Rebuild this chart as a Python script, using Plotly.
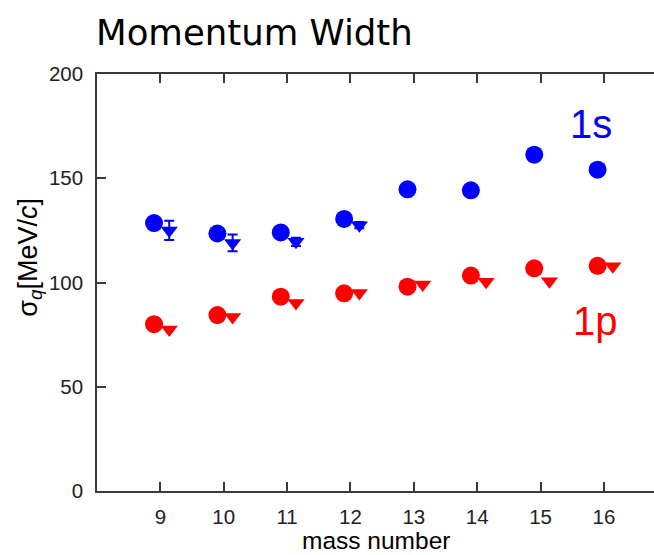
import plotly.graph_objects as go

# Mass numbers of the measured nuclei
mass = [9, 10, 11, 12, 13, 14, 15, 16]

# 1s-shell momentum width (circles) and second analysis (triangles, A = 9-12 only)
s_circle = [128.5, 123.5, 124.0, 130.5, 144.7, 144.2, 161.3, 154.1]
s_tri_mass = [9, 10, 11, 12]
s_tri = [125.0, 119.0, 119.5, 127.5]
s_tri_err = [4.6, 4.0, 2.0, 1.5]

# 1p-shell momentum width
p_circle = [80.0, 84.4, 93.2, 94.8, 98.0, 103.3, 106.8, 108.0]
p_tri = [77.4, 83.5, 90.2, 95.0, 99.0, 100.3, 100.6, 107.8]

x_ticks = [9, 10, 11, 12, 13, 14, 15, 16]
y_ticks = [0, 50, 100, 150, 200]

BLUE = "#0000ff"
RED = "#ff0000"
AXIS = "#3a3a3a"
SANS = "Liberation Sans, Arial, sans-serif"
TICKFONT = dict(family=SANS, size=20.5, color="#222222")

dx_c, dx_t = -0.1, 0.14  # small horizontal shifts so the two markers don't overlap

fig = go.Figure()

fig.add_trace(go.Scatter(
    x=[m + dx_t for m in mass], y=p_tri, mode="markers",
    marker=dict(symbol="triangle-down", size=15, color=RED, line=dict(width=0)),
    showlegend=False))
fig.add_trace(go.Scatter(
    x=[m + dx_c for m in mass], y=p_circle, mode="markers",
    marker=dict(symbol="circle", size=18, color=RED, line=dict(width=0)),
    showlegend=False))
fig.add_trace(go.Scatter(
    x=[m + dx_t for m in s_tri_mass], y=s_tri, mode="markers",
    marker=dict(symbol="triangle-down", size=15, color=BLUE, line=dict(width=0)),
    error_y=dict(type="data", array=s_tri_err, color=BLUE, thickness=2, width=5),
    showlegend=False))
fig.add_trace(go.Scatter(
    x=[m + dx_c for m in mass], y=s_circle, mode="markers",
    marker=dict(symbol="circle", size=18, color=BLUE, line=dict(width=0)),
    showlegend=False))

fig.update_layout(
    width=654, height=555,
    margin=dict(l=97, r=0, t=74, b=64),
    paper_bgcolor="white", plot_bgcolor="white",
    xaxis=dict(
        range=[8, 16.79], tickvals=x_ticks, ticktext=[str(v) for v in x_ticks],
        showline=True, linecolor=AXIS, linewidth=1.5, mirror="ticks",
        ticks="inside", ticklen=9, tickwidth=1.5, tickcolor=AXIS,
        showgrid=False, zeroline=False, tickfont=TICKFONT, ticklabelstandoff=7),
    yaxis=dict(
        range=[0, 200], tickvals=y_ticks,
        showline=True, linecolor=AXIS, linewidth=1.5, mirror=False,
        ticks="inside", ticklen=9, tickwidth=1.5, tickcolor=AXIS,
        showgrid=False, zeroline=False, tickfont=TICKFONT, ticklabelstandoff=8),
    annotations=[
        dict(text="Momentum Width", xref="paper", yref="paper", x=-0.005, y=1.045,
             xanchor="left", yanchor="bottom", showarrow=False,
             font=dict(family="DejaVu Sans, sans-serif", size=35.5, color="black")),
        dict(text="mass number", xref="paper", yref="paper", x=0.5, y=-0.1535,
             xanchor="center", yanchor="bottom", showarrow=False, borderpad=0,
             font=dict(family=SANS, size=24.5, color="black")),
        dict(text="σ<sub><i>q</i></sub>[MeV/<i>c</i>]", xref="paper", yref="paper",
             x=-0.12, y=0.56, xanchor="center", yanchor="middle", textangle=-90,
             showarrow=False,
             font=dict(family=SANS, size=27, color="black")),
        dict(text="1s", xref="x", yref="y", x=15.79, y=176, showarrow=False,
             xanchor="center", yanchor="middle",
             font=dict(family=SANS, size=40, color=BLUE)),
        dict(text="1p", xref="x", yref="y", x=15.86, y=81.5, showarrow=False,
             xanchor="center", yanchor="middle",
             font=dict(family=SANS, size=40, color=RED)),
    ],
)

fig.write_html("out.html")
